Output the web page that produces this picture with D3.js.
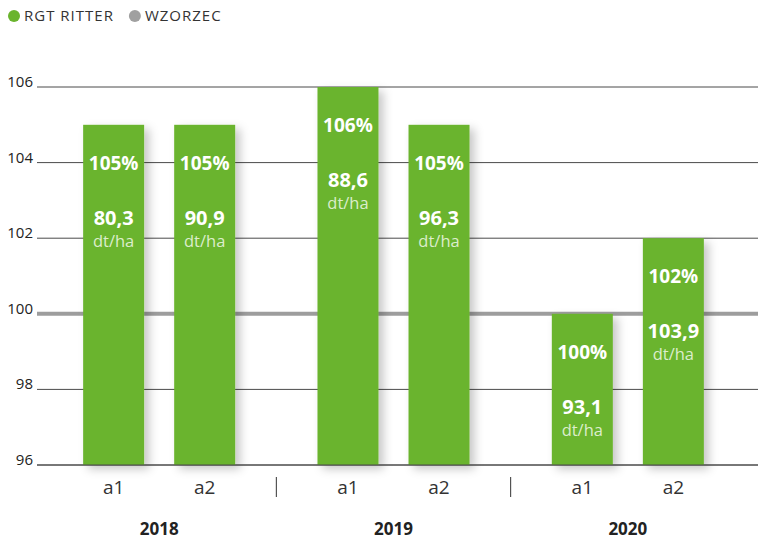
<!DOCTYPE html>
<html>
<head>
<meta charset="utf-8">
<script src="https://cdn.jsdelivr.net/npm/d3@7"></script>
<style>
  body { margin: 0; background: #fff; }
  svg { display: block; font-family: "Open Sans", "Noto Sans", sans-serif; }
</style>
</head>
<body>
<div id="chart"></div>
<script>
const years = ["2018", "2019", "2020"];
const variants = ["a1", "a2"];
// percent of the standard (WZORZEC = 100)
const percents = [
    [105, 105],
    [106, 105],
    [100, 102]
];
const yields = [
    ["80,3", "90,9"],
    ["88,6", "96,3"],
    ["93,1", "103,9"]
];
const yTicks = [96, 98, 100, 102, 104, 106];
const unit = "dt/ha";
const legendItems = [
    { name: "RGT RITTER", color: "#6ab42d" },
    { name: "WZORZEC", color: "#a0a0a0" }
];

const width = 758, height = 540;
const green = "#6ab42d";

const svg = d3.select("#chart")
    .append("svg")
    .attr("width", width)
    .attr("height", height);

// drop shadow for bars
const defs = svg.append("defs");
const filter = defs.append("filter")
    .attr("id", "shadow")
    .attr("x", "-30%").attr("y", "-10%")
    .attr("width", "170%").attr("height", "130%");
filter.append("feDropShadow")
    .attr("dx", 5).attr("dy", 4)
    .attr("stdDeviation", 5)
    .attr("flood-color", "#000")
    .attr("flood-opacity", 0.22);

const y = d3.scaleLinear()
    .domain([96, 106])
    .range([465, 87]);

const x0 = d3.scaleBand()
    .domain(years)
    .range([42, 745]);

const x1 = d3.scaleBand()
    .domain(variants)
    .range([0, x0.bandwidth()])
    .paddingInner(0.33)
    .paddingOuter(0.452);

// gridlines
const grid = svg.append("g");
yTicks.forEach(t => {
    grid.append("line")
        .attr("x1", 37).attr("x2", width)
        .attr("y1", y(t)).attr("y2", y(t))
        .attr("stroke", t === 100 ? "#9d9d9d" : "#4a4a4a")
        .attr("stroke-width", t === 100 ? 4 : 1);
    grid.append("text")
        .attr("x", 33)
        .attr("y", y(t))
        .attr("text-anchor", "end")
        .attr("font-size", 15)
        .attr("fill", "#222")
        .text(t);
});

// bars
const data = [];
years.forEach((yr, i) => {
    variants.forEach((v, j) => {
        data.push({ year: yr, variant: v, pct: percents[i][j], val: yields[i][j] });
    });
});

const groups = svg.append("g");
const bar = groups.selectAll(".bar")
    .data(data)
    .enter()
    .append("g")
    .attr("class", "bar")
    .attr("transform", d => `translate(${x0(d.year) + x1(d.variant)},0)`);

bar.append("rect")
    .attr("x", 0)
    .attr("y", d => y(d.pct))
    .attr("width", x1.bandwidth())
    .attr("height", d => y(96) - y(d.pct))
    .attr("fill", green)
    .attr("filter", "url(#shadow)");

const cx = x1.bandwidth() / 2;

bar.append("text")
    .attr("x", cx)
    .attr("y", d => y(d.pct) + 45)
    .attr("text-anchor", "middle")
    .attr("font-size", 19)
    .attr("font-weight", "bold")
    .attr("fill", "#fff")
    .text(d => d.pct + "%");

bar.append("text")
    .attr("x", cx)
    .attr("y", d => y(d.pct) + 100)
    .attr("text-anchor", "middle")
    .attr("font-size", 20)
    .attr("font-weight", "bold")
    .attr("fill", "#fff")
    .text(d => d.val);

bar.append("text")
    .attr("x", cx)
    .attr("y", d => y(d.pct) + 122)
    .attr("text-anchor", "middle")
    .attr("font-size", 16.5)
    .attr("fill", "#dcedcc")
    .text(unit);

// redraw axis baseline above shadows
svg.append("line")
    .attr("x1", 37).attr("x2", width)
    .attr("y1", y(96)).attr("y2", y(96))
    .attr("stroke", "#4a4a4a")
    .attr("stroke-width", 1);

// variant labels
bar.append("text")
    .attr("x", cx)
    .attr("y", 494)
    .attr("text-anchor", "middle")
    .attr("font-size", 19)
    .attr("fill", "#333")
    .text(d => d.variant);

// year labels and separators
years.forEach((yr, i) => {
    svg.append("text")
        .attr("x", x0(yr) + x0.bandwidth() / 2)
        .attr("y", 535)
        .attr("text-anchor", "middle")
        .attr("font-size", 17)
        .attr("font-weight", "bold")
        .attr("fill", "#222")
        .text(yr);
    if (i > 0) {
        svg.append("line")
            .attr("x1", x0(yr)).attr("x2", x0(yr))
            .attr("y1", 477).attr("y2", 497)
            .attr("stroke", "#333")
            .attr("stroke-width", 1);
    }
});

// legend
let lx = 14;
legendItems.forEach(item => {
    svg.append("circle")
        .attr("cx", lx).attr("cy", 16).attr("r", 6)
        .attr("fill", item.color);
    const t = svg.append("text")
        .attr("x", lx + 10)
        .attr("y", 21)
        .attr("font-size", 15)
        .attr("letter-spacing", 1)
        .attr("fill", "#333")
        .text(item.name);
    lx += 10 + t.node().getBBox().width + 21;
});
</script>
</body>
</html>
